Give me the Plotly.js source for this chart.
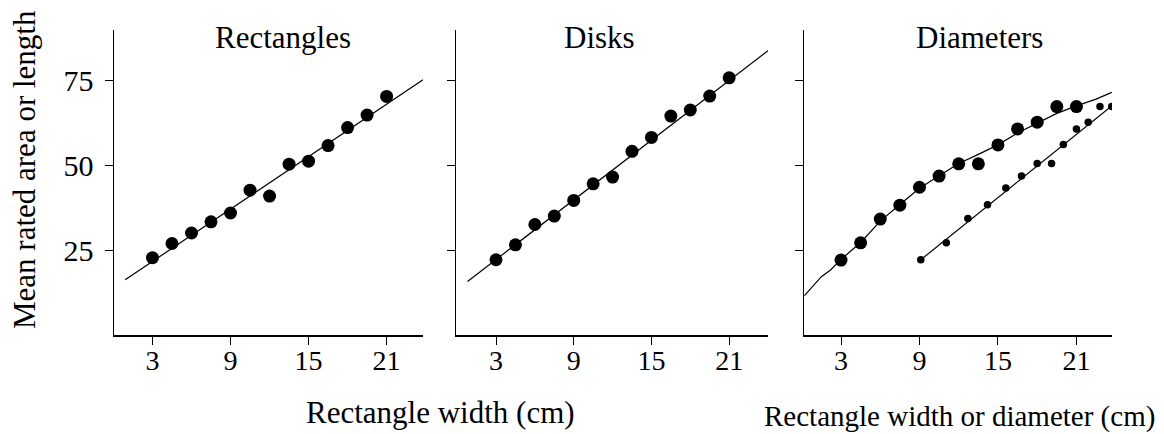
<!DOCTYPE html>
<html>
<head>
<meta charset="utf-8">
<script src="https://cdn.plot.ly/plotly-3.0.1.min.js"></script>
<style>html,body{margin:0;padding:0;background:#fff;}#chart{width:1164px;height:434px;}</style>
</head>
<body>
<div id="chart"></div>
<script>
// ---- data ----
const panelTitles = ["Rectangles", "Disks", "Diameters"];
const xTickVals = [3, 9, 15, 21];
const yTickVals = [25, 50, 75];

const rectX = [3, 4.5, 6, 7.5, 9, 10.5, 12, 13.5, 15, 16.5, 18, 19.5, 21];
const rectY = [22.8, 27.0, 30.1, 33.4, 36.0, 42.75, 41.0, 50.4, 51.3, 55.9, 61.2, 64.9, 70.4];
const rectFitX = [0.9, 23.8];
const rectFitY = [16.3, 75.3];

const diskX = [3, 4.5, 6, 7.5, 9, 10.5, 12, 13.5, 15, 16.5, 18, 19.5, 21];
const diskY = [22.2, 26.6, 32.6, 35.1, 39.7, 44.6, 46.6, 54.2, 58.3, 64.6, 66.4, 70.5, 75.9];
const diskFitX = [0.8, 24.0];
const diskFitY = [15.8, 83.9];

const widthX = [3, 4.5, 6, 7.5, 9, 10.5, 12, 13.5, 15, 16.5, 18, 19.5, 21];
const widthY = [22.1, 27.2, 34.2, 38.3, 43.6, 46.9, 50.5, 50.5, 56.1, 60.8, 62.8, 67.4, 67.4];
const widthCurveX = [0.2, 1.5, 2.2, 3.0, 4.5, 6.0, 7.5, 9.0, 10.5, 12.0, 13.5, 15.0, 16.5, 18.0, 19.5, 21.0, 22.5, 23.7];
const widthCurveY = [11.6, 17.2, 19.2, 22.3, 27.3, 33.6, 38.5, 43.3, 47.0, 50.6, 53.3, 56.1, 59.6, 62.6, 65.4, 67.6, 69.6, 71.6];

const diamX = [9.1, 11.05, 12.7, 14.2, 15.6, 16.8, 18.0, 19.1, 20.0, 21.0, 21.9, 22.8, 23.7];
const diamY = [22.2, 27.2, 34.4, 38.4, 43.4, 46.9, 50.6, 50.6, 56.2, 60.8, 62.8, 67.4, 67.4];
const diamFitX = [9.1, 23.7];
const diamFitY = [22.2, 67.6];

// ---- layout helpers ----
const W = 1164, H = 434;
const px = v => v / W;
const py = v => 1 - v / H;
const FONT = "Liberation Serif, Times New Roman, serif";

const lineStyle = {color: "black", width: 1.2};
const bigMarker = {color: "black", size: 13};
const smallMarker = {color: "black", size: 7.5};

const traces = [
  {x: rectFitX, y: rectFitY, mode: "lines", line: lineStyle, xaxis: "x", yaxis: "y"},
  {x: rectX, y: rectY, mode: "markers", marker: bigMarker, xaxis: "x", yaxis: "y"},
  {x: diskFitX, y: diskFitY, mode: "lines", line: lineStyle, xaxis: "x2", yaxis: "y2"},
  {x: diskX, y: diskY, mode: "markers", marker: bigMarker, xaxis: "x2", yaxis: "y2"},
  {x: widthCurveX, y: widthCurveY, mode: "lines", line: lineStyle, xaxis: "x3", yaxis: "y3"},
  {x: widthX, y: widthY, mode: "markers", marker: bigMarker, xaxis: "x3", yaxis: "y3"},
  {x: diamFitX, y: diamFitY, mode: "lines", line: lineStyle, xaxis: "x3", yaxis: "y3"},
  {x: diamX, y: diamY, mode: "markers", marker: smallMarker, xaxis: "x3", yaxis: "y3"}
];

function xAx(d0, d1, range, anchor) {
  return {
    domain: [px(d0), px(d1)], range: range, anchor: anchor,
    showgrid: false, zeroline: false, showline: true, linecolor: "black", linewidth: 1.5,
    ticks: "outside", ticklen: 8, tickwidth: 1, tickcolor: "black",
    tickvals: xTickVals, ticktext: xTickVals.map(String),
    tickfont: {family: FONT, size: 28, color: "black"}, ticklabelstandoff: -8
  };
}
function yAx(anchor, labels) {
  return {
    domain: [py(335), py(30)], range: [0, 90], anchor: anchor,
    showgrid: false, zeroline: false, showline: true, linecolor: "black", linewidth: 1.5,
    ticks: "outside", ticklen: 8, tickwidth: 1, tickcolor: "black",
    tickvals: yTickVals, ticktext: yTickVals.map(String), showticklabels: labels,
    tickfont: {family: FONT, size: 30, color: "black"}, ticklabelstandoff: 5
  };
}

function ann(text, x, y, size, extra) {
  return Object.assign({
    text: text, x: px(x), y: py(y), xref: "paper", yref: "paper",
    xanchor: "center", yanchor: "middle", showarrow: false,
    font: {family: FONT, size: size, color: "black"}
  }, extra || {});
}

const layout = {
  width: W, height: H,
  margin: {l: 0, r: 0, t: 0, b: 0},
  paper_bgcolor: "white", plot_bgcolor: "white",
  showlegend: false,
  font: {family: FONT, color: "black"},
  xaxis: xAx(114, 423, [0.04, 23.8], "y"),
  yaxis: yAx("x", true),
  xaxis2: xAx(456, 768, [-0.09, 24.0], "y2"),
  yaxis2: yAx("x2", false),
  xaxis3: xAx(804, 1112, [0.17, 23.72], "y3"),
  yaxis3: yAx("x3", false),
  annotations: [
    ann(panelTitles[0], 283, 37, 31),
    ann(panelTitles[1], 600, 37, 31),
    ann(panelTitles[2], 979, 37, 31),
    ann("Rectangle width (cm)", 440, 412, 31),
    ann("Rectangle width or diameter (cm)", 959, 416, 29),
    ann("Mean rated area or length", 24, 170, 31, {textangle: -90})
  ]
};

Plotly.newPlot("chart", traces, layout, {displayModeBar: false, staticPlot: true});
</script>
</body>
</html>
